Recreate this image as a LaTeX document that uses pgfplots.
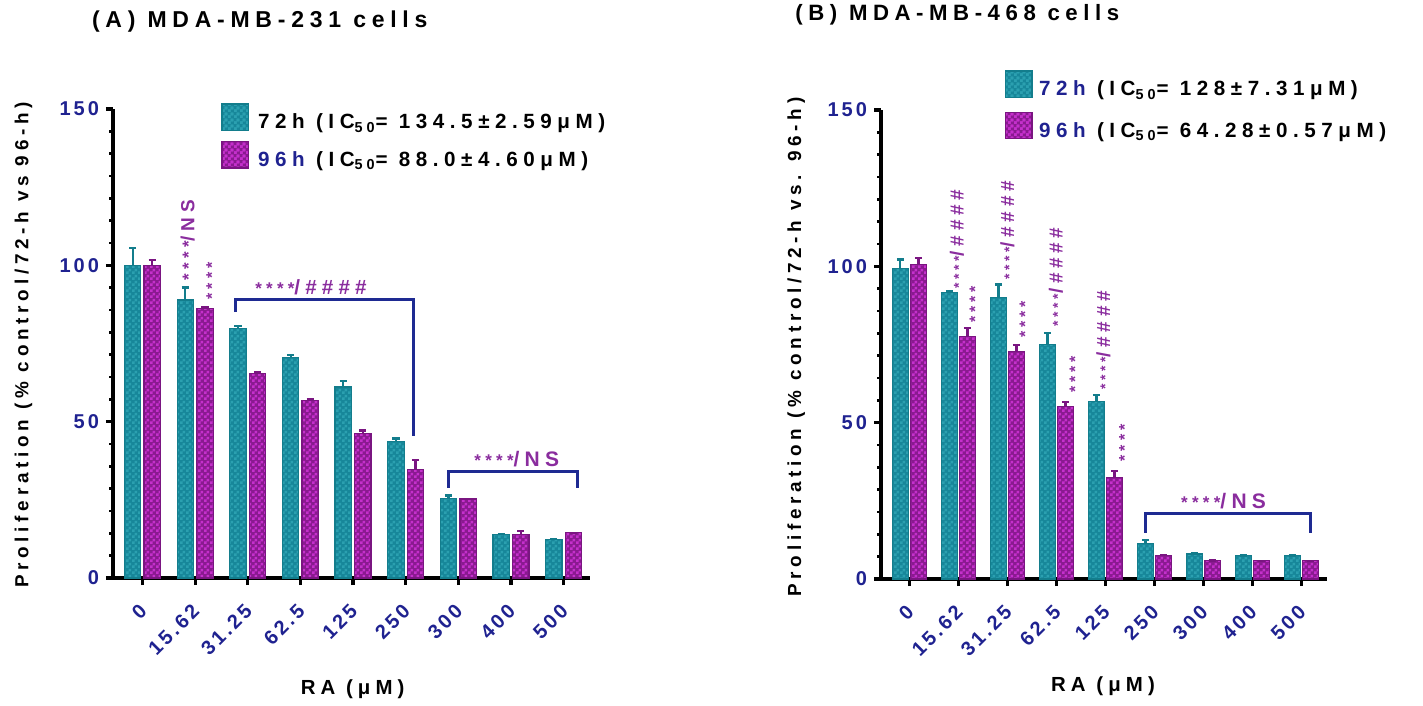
\documentclass[border=0pt]{standalone}
\usepackage{pgfplots}
\pgfplotsset{compat=1.18}
\usetikzlibrary{patterns}
\usepackage{fontspec}
\setmainfont{Liberation Sans}[LetterSpace=25]
\newfontfamily\tickfont{Liberation Sans}[LetterSpace=15]
\newfontfamily\legfont{Liberation Sans}[LetterSpace=27]
\pgfdeclarepatternformonly{finecheck}{\pgfqpoint{0pt}{0pt}}{\pgfqpoint{3pt}{3pt}}{\pgfqpoint{3pt}{3pt}}{%
  \pgfpathrectangle{\pgfqpoint{0pt}{0pt}}{\pgfqpoint{1.5pt}{1.5pt}}%
  \pgfpathrectangle{\pgfqpoint{1.5pt}{1.5pt}}{\pgfqpoint{1.5pt}{1.5pt}}%
  \pgfusepath{fill}%
}
\definecolor{tealbar}{HTML}{17879A}
\definecolor{tealpat}{HTML}{2BA0B0}
\definecolor{tealedge}{HTML}{137D8C}
\definecolor{purbar}{HTML}{8A1A90}
\definecolor{purpat}{HTML}{C530CC}
\definecolor{puredge}{HTML}{7A1581}
\definecolor{navy}{HTML}{1F2290}
\definecolor{annot}{HTML}{8A2D9E}
\definecolor{brk}{HTML}{1E2A92}
\newcommand\fs[1]{\fontsize{#1}{#1}\selectfont}
\pgfplotsset{
  myaxis/.style={
    scale only axis,
    axis x line*=bottom, axis y line*=left,
    axis line style={-, line width=2pt, black},
    ymin=0, ymax=150,
    ytick={0,50,100,150}, yticklabels={0,50,100,150},
    minor y tick num=6,
    tick align=outside,
    major tick length=3.5pt, minor tick length=2pt,
    major tick style={black, line width=1.6pt},
    minor tick style={black, line width=1.3pt},
    xtick={0,...,8},
    xticklabels={0,15.62,31.25,62.5,125,250,300,400,500},
    x tick label style={xshift=2.8pt, yshift=-9pt, rotate=45, anchor=east, font=\tickfont\bfseries\fs{10}, text=navy},
    y tick label style={font=\tickfont\bfseries\fs{10}, text=navy},
    error bars/y dir=plus, error bars/y explicit,
    clip=false,
    legend cell align=left,
  },
  tealplot/.style={fill=tealbar, draw=tealedge, line width=0.6pt,
    postaction={pattern=finecheck, pattern color=tealpat},
    error bars/error bar style={tealedge, line width=1.1pt},
    error bars/error mark options={tealedge, rotate=90, mark size=1.8pt, line width=1.1pt},
    legend image code/.code={\draw[fill=tealbar, draw=tealedge, line width=0.6pt, postaction={pattern=finecheck, pattern color=tealpat}] (0pt,-3.85pt) rectangle (13.3pt,9.45pt);}},
  purplot/.style={fill=purbar, draw=puredge, line width=0.6pt,
    postaction={pattern=finecheck, pattern color=purpat},
    error bars/error bar style={puredge, line width=1.1pt},
    error bars/error mark options={puredge, rotate=90, mark size=1.8pt, line width=1.1pt},
    legend image code/.code={\draw[fill=purbar, draw=puredge, line width=0.6pt, postaction={pattern=finecheck, pattern color=purpat}] (0pt,-3.85pt) rectangle (13.3pt,9.45pt);}},
}
\newcommand\st[1]{{\fs{#1}****}}
\begin{document}
\begin{tikzpicture}
\path (0,0) rectangle (711.5pt,-353pt);
% ---------------- Panel A
\begin{axis}[myaxis,
  at={(56.5pt,-289pt)}, anchor=south west,
  width=238.5pt, height=234.5pt,
  xmin=-0.56, xmax=8.5,
  ybar=1.6pt, bar width=8.2pt,
  legend style={at={(0.2264,1.0128)}, anchor=north west, draw=none, fill=none,
    inner sep=0pt, row sep=4.5pt, font=\legfont\bfseries\fs{10.3},
    nodes={inner sep=0pt},
    /tikz/every odd column/.append style={column sep=4.5pt}},
]
\addplot[tealplot] coordinates {
 (0,100.0) +- (0,5.5)
 (1,88.9) +- (0,4.0)
 (2,79.7) +- (0,1.0)
 (3,70.4) +- (0,0.8)
 (4,61.1) +- (0,1.8)
 (5,43.6) +- (0,1.0)
 (6,25.4) +- (0,1.0)
 (7,14.0) +- (0,0.0)
 (8,12.4) +- (0,0.0)
};
\addlegendentry{72h (IC\textsubscript{50}= 134.5±2.59μM)}
\addplot[purplot] coordinates {
 (0,100.0) +- (0,1.6)
 (1,86.1) +- (0,0.4)
 (2,65.4) +- (0,0.5)
 (3,56.8) +- (0,0.5)
 (4,46.2) +- (0,1.0)
 (5,34.8) +- (0,3.0)
 (6,25.3) +- (0,0.0)
 (7,13.9) +- (0,1.1)
 (8,14.5) +- (0,0.0)
};
\addlegendentry{\textcolor{navy}{96h} (IC\textsubscript{50}= 88.0±4.60μM)}
\node[rotate=90, anchor=west, text=annot, font=\bfseries\fs{9.5}, inner sep=0pt] at (axis cs:0.86,95) {\st{8.5}/NS};
\node[rotate=90, anchor=west, text=annot, font=\bfseries\fs{8}, inner sep=0pt] at (axis cs:1.32,89) {****};
\draw[brk, line width=1.5pt] (axis cs:1.76,85) -- (axis cs:1.76,89.1) -- (axis cs:5.14,89.1) -- (axis cs:5.14,45.5);
\node[anchor=south, text=annot, font=\bfseries\fs{10.3}, inner sep=0pt] at (axis cs:3.2,90.5) {\st{8.5}/\#\#\#\#};
\draw[brk, line width=1.5pt] (axis cs:5.81,28.8) -- (axis cs:5.81,34.1) -- (axis cs:8.26,34.1) -- (axis cs:8.26,28.8);
\node[anchor=south, text=annot, font=\bfseries\fs{10.5}, inner sep=0pt] at (axis cs:7.11,35.5) {\st{8.5}/NS};
\end{axis}
% ---------------- Panel B
\begin{axis}[myaxis,
  at={(440.5pt,-289.5pt)}, anchor=south west,
  width=223pt, height=234.5pt,
  xmin=-0.58, xmax=8.52,
  ybar=1.2pt, bar width=7.85pt,
  legend style={at={(0.2765,1.0853)}, anchor=north west, draw=none, fill=none,
    inner sep=0pt, row sep=6.4pt, font=\legfont\bfseries\fs{10.3},
    nodes={inner sep=0pt},
    /tikz/every odd column/.append style={column sep=3.3pt}},
]
\addplot[tealplot] coordinates {
 (0,99.4) +- (0,2.8)
 (1,91.6) +- (0,0.4)
 (2,90.1) +- (0,4.1)
 (3,75.1) +- (0,3.7)
 (4,56.7) +- (0,2.1)
 (5,11.4) +- (0,1.0)
 (6,8.0) +- (0,0.2)
 (7,7.5) +- (0,0.0)
 (8,7.5) +- (0,0.0)
};
\addlegendentry{\textcolor{navy}{72h} (IC\textsubscript{50}= 128±7.31μM)}
\addplot[purplot] coordinates {
 (0,100.6) +- (0,2.0)
 (1,77.5) +- (0,2.7)
 (2,72.7) +- (0,2.1)
 (3,55.3) +- (0,1.3)
 (4,32.5) +- (0,2.0)
 (5,7.5) +- (0,0.2)
 (6,5.9) +- (0,0.0)
 (7,5.8) +- (0,0.0)
 (8,5.8) +- (0,0.0)
};
\addlegendentry{\textcolor{navy}{96h} (IC\textsubscript{50}= 64.28±0.57μM)}
\foreach \xx/\yy in {0.97/92.8, 2.0/95.6, 2.99/80.7, 3.96/60.4}{
  \edef\tmp{\noexpand\node[rotate=90, anchor=west, text=annot, font=\noexpand\bfseries\noexpand\fs{9.5}, inner sep=0pt] at (axis cs:\xx,\yy) {\noexpand\st{7}/\noexpand\#\noexpand\#\noexpand\#\noexpand\#};}\tmp
}
\foreach \xx/\yy in {1.34/81.8, 2.36/77, 3.38/59.4, 4.39/37.5}{
  \edef\tmp{\noexpand\node[rotate=90, anchor=west, text=annot, font=\noexpand\bfseries\noexpand\fs{8}, inner sep=0pt] at (axis cs:\xx,\yy) {****};}\tmp
}
\draw[brk, line width=1.5pt] (axis cs:4.81,14.8) -- (axis cs:4.81,20.8) -- (axis cs:8.18,20.8) -- (axis cs:8.18,14.8);
\node[anchor=south, text=annot, font=\bfseries\fs{10.5}, inner sep=0pt] at (axis cs:6.41,22.3) {\st{8.5}/NS};
\end{axis}
% ---------------- titles and labels
\node[anchor=base west, font=\bfseries\fs{11.5}, inner sep=0pt] at (45.8pt,-14pt) {(A) MDA-MB-231 cells};
\node[anchor=base west, font=\bfseries\fs{11.1}, inner sep=0pt] at (397.5pt,-10.5pt) {(B) MDA-MB-468 cells};
\node[rotate=90, anchor=base, font=\bfseries\fs{9.45}, inner sep=0pt] at (14.2pt,-172.5pt) {Proliferation (\% control/72-h vs 96-h)};
\node[rotate=90, anchor=base, font=\bfseries\fs{9.45}, inner sep=0pt] at (400.5pt,-173.5pt) {Proliferation (\% control/72-h vs. 96-h)};
\node[anchor=base, font=\bfseries\fs{10.2}, inner sep=0pt] at (176.3pt,-347pt) {RA (μM)};
\node[anchor=base, font=\bfseries\fs{10.2}, inner sep=0pt] at (551.5pt,-345.8pt) {RA (μM)};
\end{tikzpicture}
\end{document}
